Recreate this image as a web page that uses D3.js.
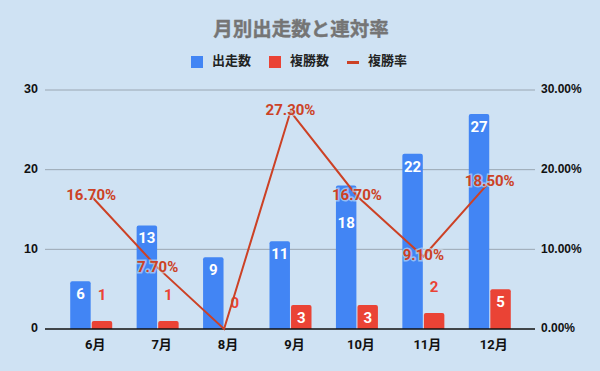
<!DOCTYPE html>
<html>
<head>
<meta charset="utf-8">
<script src="https://cdn.jsdelivr.net/npm/d3@7"></script>
<style>
  body { margin: 0; background: #cfe2f3; }
  svg { display: block; }
  text { font-family: Roboto, 'Noto Sans CJK JP', sans-serif; }
</style>
</head>
<body>
<div id="viz"></div>
<script>
const months = ['6月', '7月', '8月', '9月', '10月', '11月', '12月'];
const starts = [6, 13, 9, 11, 18, 22, 27];
const wins = [1, 1, 0, 3, 3, 2, 5];
const winRate = [16.7, 7.7, 0, 27.3, 16.7, 9.1, 18.5];
const leftTicks = [0, 10, 20, 30];
const rightTicks = [0, 10, 20, 30];

const W = 600, H = 371;
const bg = '#cfe2f3';
const blue = '#4285f4', red = '#ea4335', lineRed = '#cc4125';

const svg = d3.select('#viz').append('svg')
  .attr('width', W).attr('height', H);

svg.append('rect').attr('width', W).attr('height', H).attr('fill', bg);

const plot = { left: 45, right: 535, top: 90, bottom: 329 };

const x = d3.scaleBand().domain(months).range([58, 523]).padding(0);
const y = d3.scaleLinear().domain([0, 30]).range([plot.bottom, plot.top]);
const yR = d3.scaleLinear().domain([0, 30]).range([plot.bottom, plot.top]);
const x1 = d3.scaleBand().domain(['starts', 'wins']).range([-21, 21]).paddingInner(0.05);

// title
svg.append('text')
  .attr('x', 301).attr('y', 31)
  .attr('text-anchor', 'middle').attr('dominant-baseline', 'middle')
  .attr('fill', '#757575')
  .attr('stroke', '#757575').attr('stroke-width', 0.4)
  .style('font-size', '19.5px').style('font-weight', 'bold')
  .text('月別出走数と連対率');

// legend
const legend = svg.append('g');
const legItems = [
  { label: '出走数', color: blue, type: 'box', x: 191 },
  { label: '複勝数', color: red, type: 'box', x: 269 },
  { label: '複勝率', color: lineRed, type: 'line', x: 347 }
];
legItems.forEach(d => {
  if (d.type === 'box') {
    legend.append('rect')
      .attr('x', d.x).attr('y', 56).attr('width', 12).attr('height', 12)
      .attr('fill', d.color);
  } else {
    legend.append('rect')
      .attr('x', d.x).attr('y', 61).attr('width', 12).attr('height', 3)
      .attr('fill', d.color);
  }
  legend.append('text')
    .attr('x', d.x + 21).attr('y', 62)
    .attr('dominant-baseline', 'middle')
    .attr('fill', '#222')
    .style('font-size', '13px').style('font-weight', 'bold')
    .text(d.label);
});

// gridlines
svg.append('g')
  .selectAll('line')
  .data(leftTicks.filter(t => t > 0))
  .join('line')
  .attr('x1', plot.left).attr('x2', plot.right)
  .attr('y1', d => y(d)).attr('y2', d => y(d))
  .attr('stroke', '#9aa6b2').attr('stroke-width', 1);

// left ticks
svg.append('g')
  .selectAll('text')
  .data(leftTicks)
  .join('text')
  .attr('x', 38).attr('y', d => y(d))
  .attr('text-anchor', 'end').attr('dominant-baseline', 'middle')
  .attr('fill', '#111')
  .style('font-family', "'Liberation Sans', Arial, sans-serif")
  .style('font-size', '12.5px').style('font-weight', 'bold')
  .text(d => d);

// right ticks
svg.append('g')
  .selectAll('text')
  .data(rightTicks)
  .join('text')
  .attr('x', 541).attr('y', d => yR(d))
  .attr('text-anchor', 'start').attr('dominant-baseline', 'middle')
  .attr('fill', '#111')
  .style('font-family', "'Liberation Sans', Arial, sans-serif")
  .style('font-size', '12px').style('font-weight', 'bold')
  .text(d => d3.format('.2f')(d) + '%');

// bars
const rows = months.map((m, i) => ({ m, starts: starts[i], wins: wins[i], rate: winRate[i] }));
const groups = svg.append('g').selectAll('g')
  .data(rows).join('g')
  .attr('transform', d => `translate(${x(d.m) + x.bandwidth() / 2},0)`);

const series = [
  { key: 'starts', color: blue },
  { key: 'wins', color: red }
];

// label position: inside the bar if it fits, above otherwise, and pushed
// below the rate label when the two would collide
function barLabelY(d, key) {
  const top = y(d[key]);
  let ly = (plot.bottom - top >= 22) ? top + 14 : top - 25;
  const ry = yR(d.rate);
  if (d.rate > 0 && Math.abs(ly - ry) < 16) ly = ry + 28;
  return ly;
}

series.forEach(s => {
  groups.filter(d => d[s.key] > 0).append('path')
    .attr('fill', s.color)
    .attr('d', d => {
      const x0 = x1(s.key), w = x1.bandwidth();
      const y0 = y(d[s.key]), h = plot.bottom - y0;
      const r = Math.min(2, h / 2);
      return `M${x0},${plot.bottom}V${y0 + r}Q${x0},${y0} ${x0 + r},${y0}` +
        `H${x0 + w - r}Q${x0 + w},${y0} ${x0 + w},${y0 + r}V${plot.bottom}Z`;
    });
  groups.append('text')
    .attr('x', x1(s.key) + x1.bandwidth() / 2)
    .attr('y', d => barLabelY(d, s.key))
    .attr('text-anchor', 'middle').attr('dominant-baseline', 'middle')
    .attr('fill', d => (plot.bottom - y(d[s.key]) >= 22) ? '#fff' : s.color)
    .style('font-size', '15px').style('font-weight', 'bold')
    .text(d => d[s.key]);
});

// axis baseline
svg.append('line')
  .attr('x1', plot.left).attr('x2', plot.right)
  .attr('y1', plot.bottom).attr('y2', plot.bottom)
  .attr('stroke', '#111').attr('stroke-width', 1.3);

// x labels
svg.append('g')
  .selectAll('text')
  .data(months)
  .join('text')
  .attr('x', d => x(d) + x.bandwidth() / 2 + 4)
  .attr('y', 346)
  .attr('text-anchor', 'middle').attr('dominant-baseline', 'middle')
  .attr('fill', '#111')
  .style('font-size', '13px').style('font-weight', 'bold')
  .text(d => d);

// rate line
const line = d3.line()
  .x(d => x(d.m) + x.bandwidth() / 2)
  .y(d => yR(d.rate));

svg.append('path')
  .datum(rows)
  .attr('d', line)
  .attr('fill', 'none')
  .attr('stroke', lineRed)
  .attr('stroke-width', 2);

svg.append('g')
  .selectAll('text')
  .data(rows.filter(d => d.rate > 0))
  .join('text')
  .attr('x', d => x(d.m) + x.bandwidth() / 2)
  .attr('y', d => yR(d.rate))
  .attr('text-anchor', 'middle').attr('dominant-baseline', 'middle')
  .attr('fill', lineRed)
  .attr('stroke', bg).attr('stroke-width', 3).attr('stroke-opacity', 0.6)
  .attr('paint-order', 'stroke')
  .style('font-size', '15px').style('font-weight', 'bold')
  .text(d => d3.format('.2f')(d.rate) + '%');
</script>
</body>
</html>
